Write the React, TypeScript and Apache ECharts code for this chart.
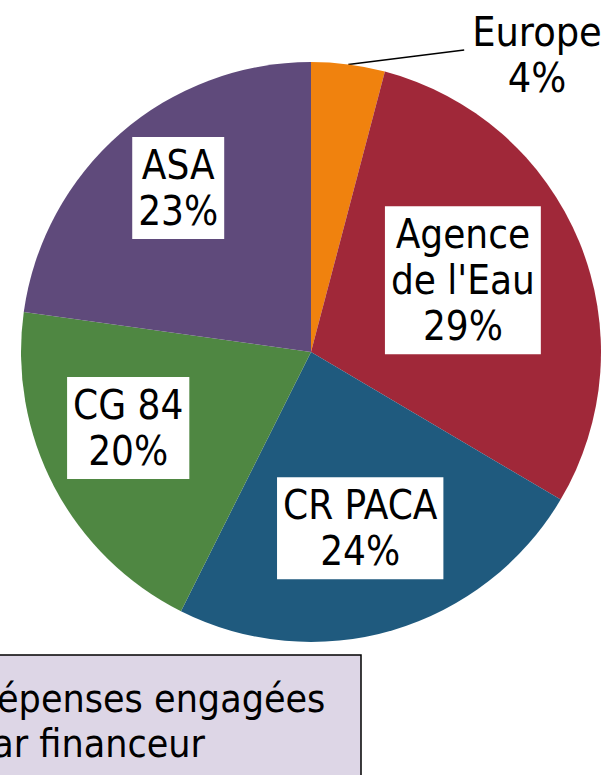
import React, { useEffect, useRef } from "react";
import * as echarts from "echarts";

const categories = ["Europe", "Agence\nde l'Eau", "CR PACA", "CG 84", "ASA"];
const values = [4.1, 29.4, 23.9, 19.8, 22.8];
const colors = ["#F0820E", "#A02839", "#1F5A7E", "#4F8742", "#5F4A7B"];
// label placement (angle from top clockwise in degrees, distance from centre in px)
const labelPolar: ([number, number] | null)[] = [null, [64.7, 168], [164.4, 183], [247.4, 198], [321, 211]];
const titleLines = ["Dépenses engagées", "par financeur"];

const CX = 311;
const CY = 352;
const R = 290;
const FONT = "'DejaVu Sans Condensed', 'Open Sans', sans-serif";

export default function App() {
  const ref = useRef<HTMLDivElement>(null);
  useEffect(() => {
    if (!ref.current) return;
    const chart = echarts.init(ref.current, null, { renderer: "svg" });
    const total = values.reduce((a, b) => a + b, 0);
    chart.setOption({
      animation: false,
      backgroundColor: "#ffffff",
      series: [
        {
          type: "pie",
          center: [CX, CY],
          radius: [0, R],
          startAngle: 90,
          clockwise: true,
          avoidLabelOverlap: false,
          itemStyle: { borderWidth: 0 },
          label: {
            show: true,
            position: "inside",
            fontFamily: FONT,
            fontSize: 40,
            lineHeight: 46,
            color: "#000",
            backgroundColor: "#fff",
            padding: [6, 6, 4, 6],
            formatter: (p: any) => `${p.name}\n${Math.round((p.value / total) * 100)}%`,
          },
          labelLine: { show: false },
          data: categories.map((c, i) => ({
            name: c,
            value: values[i],
            itemStyle: { color: colors[i] },
            ...(i === 0
              ? {
                  label: {
                    position: "outside",
                    backgroundColor: "transparent",
                    padding: 0,
                    align: "center",
                    fontSize: 41,
                  },
                  labelLine: { show: true, length: 20, length2: 20, lineStyle: { color: "#000", width: 1.5 } },
                }
              : {}),
          })),
          labelLayout: (params: any) => {
            const i = params.dataIndex;
            const r = params.labelRect;
            const pc = labelPolar[i];
            if (pc) {
              const a = (pc[0] * Math.PI) / 180;
              const tx = CX + pc[1] * Math.sin(a);
              const ty = CY - pc[1] * Math.cos(a);
              return { dx: tx - (r.x + r.width / 2), dy: ty - (r.y + r.height / 2) };
            }
            // Europe: outside label, top right
            const lx = CX + 226;
            const ly = CY - 297;
            const start = params.labelLinePoints ? params.labelLinePoints[0] : [CX, CY - R];
            const endX = lx - r.width / 2 - 8;
            const endY = ly - 5;
            return {
              x: lx,
              y: ly,
              align: "center",
              verticalAlign: "middle",
              labelLinePoints: [start, [(start[0] + endX) / 2, (start[1] + endY) / 2], [endX, endY]],
            };
          },
        },
      ],
      graphic: [
        {
          type: "rect",
          z: 10,
          shape: { x: -20, y: 655, width: 381, height: 140 },
          style: { fill: "#DDD6E6", stroke: "#000", lineWidth: 1.5 },
        },
        {
          type: "text",
          z: 11,
          style: {
            x: -30,
            y: 676,
            text: titleLines.join("\n"),
            font: `39px ${FONT}`,
            lineHeight: 45,
            fill: "#000",
            textAlign: "left",
            textVerticalAlign: "top",
          },
        },
      ],
    });
    return () => chart.dispose();
  }, []);
  return (
    <div
      ref={ref}
      style={{ position: "absolute", left: 0, top: 0, width: 610, height: 775 }}
    />
  );
}
